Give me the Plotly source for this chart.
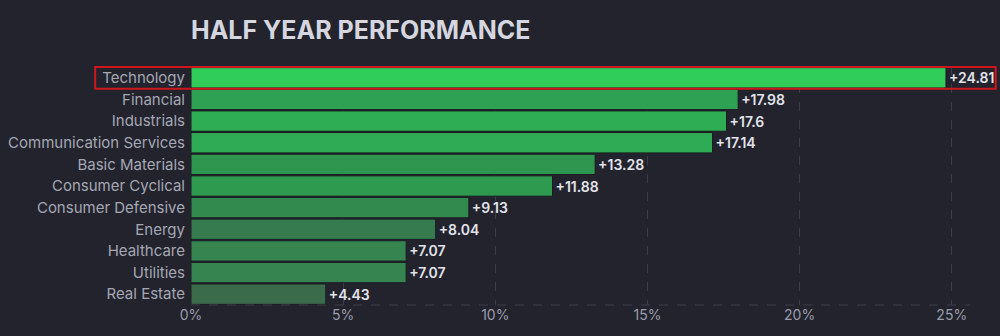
import plotly.graph_objects as go

sectors = ["Technology", "Financial", "Industrials", "Communication Services",
           "Basic Materials", "Consumer Cyclical", "Consumer Defensive", "Energy",
           "Healthcare", "Utilities", "Real Estate"]
values = [24.81, 17.98, 17.6, 17.14, 13.28, 11.88, 9.13, 8.04, 7.07, 7.07, 4.43]
colors = ["#30cd5a", "#2ea152", "#2fad55", "#2eab54", "#2f9650", "#2e9a4f",
          "#328a4f", "#367a4f", "#368551", "#368551", "#3a6c4c"]
labels = [f"+{v:g}" for v in values]
tick_vals = [0, 5, 10, 15, 20, 25]
tick_text = [f"{t}%" for t in tick_vals]
highlight = "Technology"

bg = "#22232d"
font_family = "Inter, Arial, sans-serif"
fig = go.Figure(go.Bar(
    x=values, y=sectors, orientation="h",
    marker=dict(color=colors, line=dict(color="#1b1c23", width=1)),
    text=labels, textposition="outside", cliponaxis=False,
    textfont=dict(color="#e2e3ea", size=14, family=font_family, weight=600),
    hoverinfo="skip",
))

hi = sectors.index(highlight)
fig.add_shape(type="rect", xref="paper", yref="y",
              x0=-0.123, x1=1.033, y0=hi - 0.5, y1=hi + 0.5,
              line=dict(color="#d0161c", width=2), fillcolor="rgba(0,0,0,0)")
fig.add_shape(type="line", xref="paper", yref="paper", x0=0, x1=1, y0=0, y1=0,
              line=dict(color="#3c3e4a", width=1, dash="dash"))

fig.update_layout(
    width=1000, height=336,
    paper_bgcolor=bg, plot_bgcolor=bg,
    margin=dict(l=191, r=30, t=66, b=31, autoexpand=False),
    bargap=0.06,
    showlegend=False,
    title=dict(text="<b>HALF YEAR PERFORMANCE</b>", x=191 / 1000, xanchor="left",
               y=1 - 30 / 336, yanchor="middle",
               font=dict(size=25, color="#d5d6df", family=font_family)),
    xaxis=dict(range=[0, 25.6], tickvals=tick_vals, ticktext=tick_text,
               showgrid=True, gridcolor="#3a3c48", griddash="dash", gridwidth=1,
               zeroline=False, showline=False, automargin=False,
               tickfont=dict(color="#9a9cab", size=14, family=font_family)),
    yaxis=dict(categoryorder="array", categoryarray=sectors, autorange="reversed",
               showgrid=False, zeroline=False, ticks="", ticklen=0,
               ticklabelstandoff=5, automargin=False,
               tickfont=dict(color="#a5a7b4", size=15, family=font_family)),
)

fig.write_html("out.html")
